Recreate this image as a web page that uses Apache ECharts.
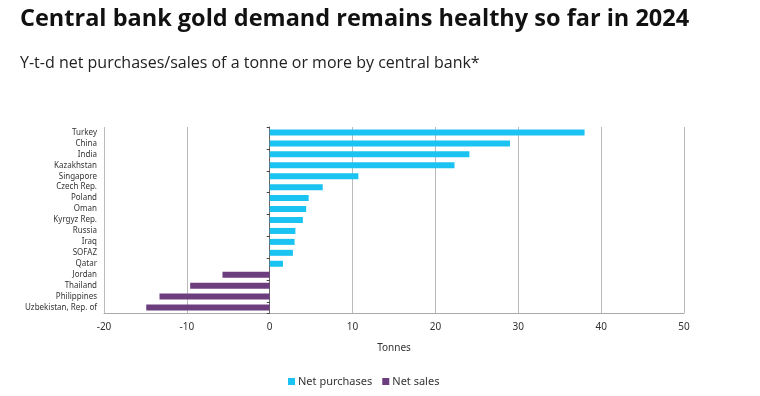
<!DOCTYPE html>
<html>
<head>
<meta charset="utf-8">
<script src="https://cdn.jsdelivr.net/npm/echarts@6/dist/echarts.min.js"></script>
<style>
  html, body { margin: 0; padding: 0; background: #fff; }
  #chart { width: 760px; height: 396px; }
</style>
</head>
<body>
<div id="chart"></div>
<script>
// central banks, top to bottom
var banks = ['Turkey', 'China', 'India', 'Kazakhstan', 'Singapore', 'Czech Rep.', 'Poland', 'Oman',
  'Kyrgyz Rep.', 'Russia', 'Iraq', 'SOFAZ', 'Qatar', 'Jordan', 'Thailand', 'Philippines', 'Uzbekistan, Rep. of'];
// tonnes, y-t-d
var netPurchases = [38.0, 29.0, 24.1, 22.3, 10.7, 6.4, 4.7, 4.4, 4.0, 3.1, 3.0, 2.8, 1.6, '-', '-', '-', '-'];
var netSales = ['-', '-', '-', '-', '-', '-', '-', '-', '-', '-', '-', '-', '-', -5.7, -9.6, -13.3, -14.9];

var chart = echarts.init(document.getElementById('chart'), null, { renderer: 'canvas' });

var option = {
  animation: false,
  title: [
    {
      text: 'Central bank gold demand remains healthy so far in 2024',
      left: 15, top: 2,
      textStyle: { fontFamily: 'Open Sans', fontWeight: 'bold', fontSize: 23.5, color: '#111' }
    },
    {
      text: 'Y-t-d net purchases/sales of a tonne or more by central bank*',
      left: 15, top: 50,
      textStyle: { fontFamily: 'Open Sans', fontWeight: 'normal', fontSize: 16, color: '#222' }
    }
  ],
  grid: { left: 104, right: 76, top: 127, bottom: 83 },
  legend: {
    left: 283, top: 371,
    itemWidth: 7, itemHeight: 7, itemGap: 10,
    icon: 'rect',
    textStyle: { fontFamily: 'Noto Sans', fontSize: 11, color: '#333', padding: [0, 0, 0, -2] },
    data: ['Net purchases', 'Net sales']
  },
  xAxis: {
    type: 'value',
    min: -20, max: 50, interval: 10,
    name: 'Tonnes',
    nameLocation: 'middle',
    nameGap: 30,
    nameTextStyle: { fontFamily: 'Noto Sans', fontSize: 10, color: '#333' },
    axisLine: { show: true, lineStyle: { color: '#aaa', width: 1 } },
    axisTick: { show: false },
    axisLabel: { fontFamily: 'Noto Sans', fontSize: 10, color: '#333', margin: 9 },
    splitLine: { show: true, lineStyle: { color: '#bbb', width: 1 } }
  },
  yAxis: [
    {
      type: 'category',
      data: banks,
      inverse: true,
      axisLine: { show: false, onZero: false },
      axisTick: { show: false },
      axisLabel: { fontFamily: 'Noto Sans', fontSize: 8, color: '#333', margin: 7 }
    },
    {
      type: 'category',
      data: banks,
      inverse: true,
      position: 'left',
      axisLine: { show: true, onZero: true, onZeroAxisIndex: 0, lineStyle: { color: '#666', width: 1 } },
      axisTick: { show: true, length: 3, lineStyle: { color: '#444' } },
      axisLabel: { show: false }
    }
  ],
  series: [
    {
      name: 'Net purchases',
      type: 'bar',
      stack: 'total',
      barWidth: 6,
      itemStyle: { color: '#1ac3f1' },
      data: netPurchases
    },
    {
      name: 'Net sales',
      type: 'bar',
      stack: 'total',
      barWidth: 6,
      itemStyle: { color: '#6c3e7e' },
      data: netSales
    }
  ]
};

chart.setOption(option);
</script>
</body>
</html>
